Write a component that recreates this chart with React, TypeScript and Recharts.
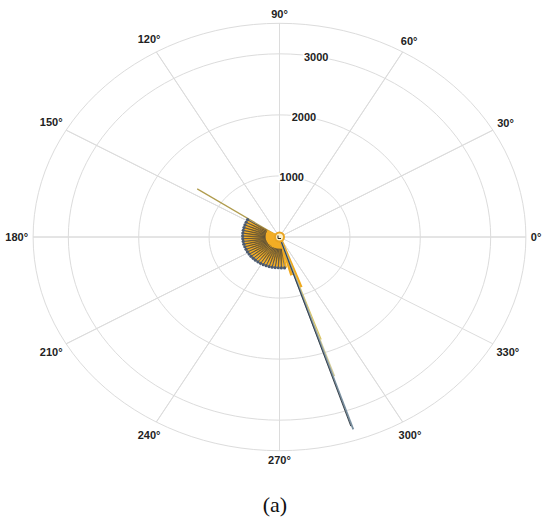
import { Scatter, ScatterChart, XAxis, YAxis } from "recharts";

// polar grid
const angleTicks = [0, 30, 60, 90, 120, 150, 180, 210, 240, 270, 300, 330];
const ringValues = [1000, 2000, 3000];
const outerRing = 3500;
const ringLabelAngle = 80;

// fan of short rays (deg, magnitude)
const fanAngles = [148, 153, 158, 163, 168, 173, 178, 183, 188, 193, 198, 203, 208, 213, 218, 223, 228, 233, 238, 243, 248, 253, 258, 263, 268, 273, 278];
const fanLengths = [535, 532, 530, 528, 526, 525, 524, 522, 521, 520, 518, 517, 516, 515, 514, 512, 511, 510, 509, 508, 507, 506, 505, 505, 504, 508, 512];

// long spike towards ~288 deg
const spikeAngles = [285.5, 290.2, 289.4, 288.9, 288.4, 288.1];
const spikeLengths = [650, 880, 1780, 2410, 3320, 3260];

// single thin ray towards ~146 deg
const oliveAngles = [146];
const oliveLengths = [1410];

const spikeStyles = [
	{ stroke: "#f0a91e", width: 3 },
	{ stroke: "#f0a91e", width: 3.5 },
	{ stroke: "#d9c45e", width: 1.3 },
	{ stroke: "#d2cb98", width: 1.5 },
	{ stroke: "#7a90a0", width: 1.8 },
	{ stroke: "#2c363e", width: 0.9 },
];

const ORANGE_SHIFT = 2.4;
const DARK_START = 0.38;
const GRID = "#dcdcdc";
const LABEL_FONT = "'Liberation Sans', Arial, sans-serif";

const toXY = (deg: number, r: number) => {
	const t = (deg * Math.PI) / 180;
	return { x: r * Math.cos(t), y: r * Math.sin(t) };
};

const rays = (angles: number[], lengths: number[], shift = 0, start = 0) =>
	angles.flatMap((a, i) => [
		{ ...toXY(a + shift, lengths[i] * start), tip: false },
		{ ...toXY(a + shift, lengths[i]), tip: true },
	]);

const ringPoints = (r: number) => {
	const pts = [];
	for (let a = 0; a <= 360; a += 3) pts.push(toXY(a, r));
	return pts;
};

const spokePoints = angleTicks.flatMap((a) => [{ x: 0, y: 0 }, toXY(a, outerRing)]);
const angleLabelPoints = angleTicks.map((a) => ({ ...toXY(a, outerRing), angle: a }));
const ringLabelPoints = ringValues.map((v) => ({ ...toXY(ringLabelAngle, v), value: v }));

const noShape = () => <g />;

function AngleLabel(props: any) {
	const { cx, cy, payload } = props;
	const text = `${payload.angle}°`;
	const t = (payload.angle * Math.PI) / 180;
	const hw = text.length * 3.1;
	const hh = 5;
	const d = 4 + Math.abs(Math.cos(t)) * hw + Math.abs(Math.sin(t)) * hh;
	return (
		<text
			x={cx + Math.cos(t) * d}
			y={cy - Math.sin(t) * d}
			textAnchor="middle"
			dominantBaseline="central"
			fontFamily={LABEL_FONT}
			fontWeight="bold"
			fontSize={11}
			fill="#222"
		>
			{text}
		</text>
	);
}

function RingLabel(props: any) {
	const { cx, cy, payload } = props;
	return (
		<text
			x={cx}
			y={cy}
			textAnchor="middle"
			dominantBaseline="central"
			fontFamily={LABEL_FONT}
			fontWeight="bold"
			fontSize={11}
			fill="#222"
			stroke="#fff"
			strokeWidth={3}
			paintOrder="stroke"
		>
			{payload.value}
		</text>
	);
}

function TipDot(props: any) {
	const { cx, cy, payload } = props;
	if (!payload.tip) return <g />;
	return <circle cx={cx} cy={cy} r={1.6} fill="#4b5a70" />;
}

function CenterMark(props: any) {
	const { cx, cy } = props;
	return (
		<g>
			<circle cx={cx} cy={cy} r={4.5} fill="#fdf0c8" stroke="#e9a420" strokeWidth={2} />
			<path d={`M${cx - 1.5},${cy - 1.5} L${cx - 1.5},${cy + 1.5} L${cx + 1.5},${cy + 1.5}`} stroke="#222" strokeWidth={1} fill="none" />
		</g>
	);
}

export default function App() {
	return (
		<div style={{ position: "absolute", left: 0, top: 0, width: 550, height: 524, background: "#fff" }}>
			<ScatterChart width={550} height={524} margin={{ top: 5, right: 3, bottom: 55, left: 12 }}>
				<XAxis type="number" dataKey="x" domain={[-3800, 3800]} hide />
				<YAxis type="number" dataKey="y" domain={[-3800, 3800]} hide />
				{[...ringValues, outerRing].map((r) => (
					<Scatter
						key={`ring-${r}`}
						data={ringPoints(r)}
						line={{ stroke: GRID, strokeWidth: 1 }}
						lineType="joint"
						shape={noShape}
						isAnimationActive={false}
					/>
				))}
				<Scatter
					data={spokePoints}
					line={{ stroke: GRID, strokeWidth: 1 }}
					lineType="joint"
					shape={noShape}
					isAnimationActive={false}
				/>
				<Scatter data={ringLabelPoints} shape={<RingLabel />} isAnimationActive={false} />
				<Scatter
					data={rays(oliveAngles, oliveLengths)}
					line={{ stroke: "#b09c4e", strokeWidth: 1.2 }}
					lineType="joint"
					shape={noShape}
					isAnimationActive={false}
				/>
				<Scatter
					data={rays(fanAngles, fanLengths, ORANGE_SHIFT)}
					line={{ stroke: "#f2ad24", strokeWidth: 2.2 }}
					lineType="joint"
					shape={noShape}
					isAnimationActive={false}
				/>
				<Scatter
					data={rays(fanAngles, fanLengths, 0, DARK_START)}
					line={{ stroke: "#3a3a3a", strokeWidth: 0.6 }}
					lineType="joint"
					shape={<TipDot />}
					isAnimationActive={false}
				/>
				{spikeStyles.map((s, i) => (
					<Scatter
						key={`spike-${i}`}
						data={rays([spikeAngles[i]], [spikeLengths[i]])}
						line={{ stroke: s.stroke, strokeWidth: s.width }}
						lineType="joint"
						shape={noShape}
						isAnimationActive={false}
					/>
				))}
				<Scatter data={[{ x: 0, y: 0 }]} shape={<CenterMark />} isAnimationActive={false} />
				<Scatter data={angleLabelPoints} shape={<AngleLabel />} isAnimationActive={false} />
			</ScatterChart>
			<div
				style={{
					position: "absolute",
					left: 0,
					width: 550,
					top: 492,
					textAlign: "center",
					fontFamily: "'Liberation Serif', 'DejaVu Serif', serif",
					fontSize: 22,
					color: "#111",
				}}
			>
				(a)
			</div>
		</div>
	);
}
